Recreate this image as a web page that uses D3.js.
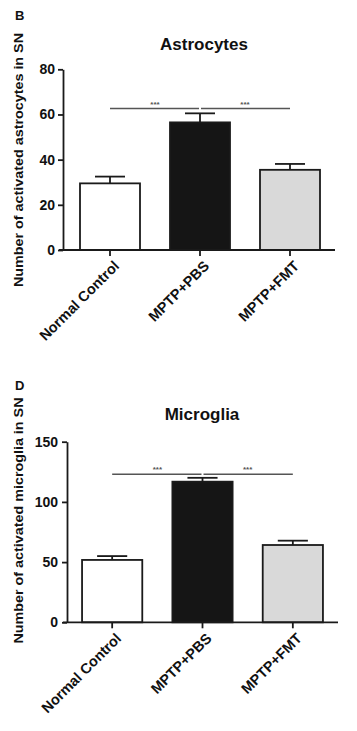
<!DOCTYPE html>
<html>
<head>
<meta charset="utf-8">
<script src="https://cdn.jsdelivr.net/npm/d3@7"></script>
<style>
  html, body { margin: 0; padding: 0; background: #fff; }
  svg { display: block; }
  text { font-family: "Liberation Sans", Arial, sans-serif; }
</style>
</head>
<body>
<svg id="chart" width="357" height="731"></svg>
<script>
const categories = ["Normal Control", "MPTP+PBS", "MPTP+FMT"];
const barColors = ["#ffffff", "#151515", "#d9d9d9"];

const astroMean = [29.5, 56.5, 35.5];
const astroSem = [3.0, 4.0, 2.6];
const astroTicks = [0, 20, 40, 60, 80];
const astroSig = 62.6;

const microMean = [51.8, 116.8, 64.2];
const microSem = [3.2, 3.2, 3.6];
const microTicks = [0, 50, 100, 150];
const microSig = 122.9;

const svg = d3.select("#chart");

function panel(opts) {
  const g = svg.append("g");
  const x = d3.scaleBand().domain(categories)
    .range([opts.x0, opts.x1]).paddingInner(1/3).paddingOuter(1/6);
  const y = d3.scaleLinear().domain([0, opts.yMax]).range([opts.yBottom, opts.yTop]);
  const axisX = opts.axisX;

  // panel letter
  g.append("text").attr("x", 15).attr("y", opts.letterY)
    .attr("font-size", 13).attr("font-weight", "bold").attr("fill", "#111")
    .text(opts.letter);

  // title
  g.append("text").attr("x", opts.titleX).attr("y", opts.titleY)
    .attr("text-anchor", "middle").attr("font-size", 17).attr("font-weight", "bold")
    .attr("fill", "#111").text(opts.title);

  // y axis title
  g.append("text")
    .attr("transform", `translate(23,${opts.yTitleY}) rotate(-90)`)
    .attr("text-anchor", "middle").attr("font-size", 13.5).attr("font-weight", "bold")
    .attr("textLength", opts.yTitleLen).attr("lengthAdjust", "spacingAndGlyphs")
    .attr("fill", "#111").text(opts.yTitle);

  // bars
  g.selectAll("rect.bar").data(opts.mean).enter().append("rect")
    .attr("class", "bar")
    .attr("x", (d, i) => x(categories[i]))
    .attr("width", x.bandwidth())
    .attr("y", d => y(d))
    .attr("height", d => y(0) - y(d))
    .attr("fill", (d, i) => barColors[i])
    .attr("stroke", "#1a1a1a").attr("stroke-width", 1.8);

  // error bars (upper)
  const capW = x.bandwidth() / 2;
  opts.mean.forEach((m, i) => {
    const cx = x(categories[i]) + x.bandwidth() / 2;
    g.append("line").attr("x1", cx).attr("x2", cx)
      .attr("y1", y(m)).attr("y2", y(m + opts.sem[i]))
      .attr("stroke", "#1a1a1a").attr("stroke-width", 1.8);
    g.append("line").attr("x1", cx - capW / 2).attr("x2", cx + capW / 2)
      .attr("y1", y(m + opts.sem[i])).attr("y2", y(m + opts.sem[i]))
      .attr("stroke", "#1a1a1a").attr("stroke-width", 1.8);
  });

  // y axis
  const yAx = g.append("g").attr("transform", `translate(${axisX},0)`)
    .call(d3.axisLeft(y).tickValues(opts.ticks).tickSize(5).tickPadding(opts.tickPad).tickSizeOuter(0));
  yAx.select(".domain").attr("stroke", "#1a1a1a").attr("stroke-width", 1.8);
  yAx.selectAll(".tick line").attr("stroke", "#1a1a1a").attr("stroke-width", 1.8);
  yAx.selectAll(".tick text").attr("font-size", 14).attr("font-weight", "bold")
    .attr("fill", "#111").attr("font-family", "Liberation Sans, Arial, sans-serif");

  // x axis
  const xAx = g.append("g").attr("transform", `translate(0,${opts.yBottom})`)
    .call(d3.axisBottom(x).tickSize(6).tickSizeOuter(0));
  xAx.select(".domain").attr("d", `M${axisX - 4},0H${opts.x1}`)
    .attr("stroke", "#1a1a1a").attr("stroke-width", 1.8);
  xAx.selectAll(".tick line").attr("stroke", "#1a1a1a").attr("stroke-width", 1.8);
  xAx.selectAll(".tick text")
    .attr("font-size", 14.5).attr("font-weight", "bold").attr("fill", "#111")
    .attr("font-family", "Liberation Sans, Arial, sans-serif")
    .attr("text-anchor", "end").attr("dy", null).attr("y", null)
    .attr("transform", "translate(10,17) rotate(-45)");

  // significance line
  const c0 = x(categories[0]) + x.bandwidth() / 2;
  const c1 = x(categories[1]) + x.bandwidth() / 2;
  const c2 = x(categories[2]) + x.bandwidth() / 2;
  const sy = y(opts.sig);
  g.append("line").attr("x1", c0).attr("x2", c1 - 1).attr("y1", sy).attr("y2", sy)
    .attr("stroke", "#555").attr("stroke-width", 1.5);
  g.append("line").attr("x1", c1 + 1).attr("x2", c2).attr("y1", sy).attr("y2", sy)
    .attr("stroke", "#555").attr("stroke-width", 1.5);
  [(c0 + c1) / 2, (c1 + c2) / 2].forEach(sx => {
    g.append("text").attr("x", sx).attr("y", sy - 2).attr("text-anchor", "middle")
      .attr("font-size", 8).attr("font-weight", "bold").attr("fill", "#555").text("***");
  });
}

panel({
  letter: "B", letterY: 20,
  title: "Astrocytes", titleX: 204, titleY: 50,
  yTitle: "Number of activated astrocytes in SN", yTitleY: 160, yTitleLen: 254,
  x0: 65, x1: 335, axisX: 63, tickPad: 3,
  yMax: 80, yBottom: 250, yTop: 69.3,
  ticks: astroTicks, mean: astroMean, sem: astroSem, sig: astroSig
});

panel({
  letter: "D", letterY: 390,
  title: "Microglia", titleX: 202, titleY: 420,
  yTitle: "Number of activated microglia in SN", yTitleY: 520.5, yTitleLen: 246,
  x0: 67, x1: 338, axisX: 67, tickPad: 4,
  yMax: 150, yBottom: 622.3, yTop: 441.7,
  ticks: microTicks, mean: microMean, sem: microSem, sig: microSig
});
</script>
</body>
</html>
